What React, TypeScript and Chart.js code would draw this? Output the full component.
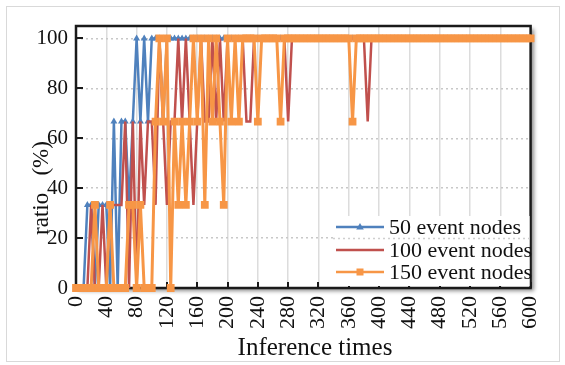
import React, { useEffect, useRef } from 'react';
import { Chart, registerables } from 'chart.js';

Chart.register(...registerables);

// ---------- data ----------
const inferenceTimes = [
  0, 5, 10, 15, 20, 25, 30, 35, 40, 45,
  50, 55, 60, 65, 70, 75, 80, 85, 90, 95,
  100, 105, 110, 115, 120, 125, 130, 135, 140, 145,
  150, 155, 160, 165, 170, 175, 180, 185, 190, 195,
  200, 205, 210, 215, 220, 225, 230, 235, 240, 245,
  250, 255, 260, 265, 270, 275, 280, 285, 290, 295,
  300, 305, 310, 315, 320, 325, 330, 335, 340, 345,
  350, 355, 360, 365, 370, 375, 380, 385, 390, 395,
  400, 405, 410, 415, 420, 425, 430, 435, 440, 445,
  450, 455, 460, 465, 470, 475, 480, 485, 490, 495,
  500, 505, 510, 515, 520, 525, 530, 535, 540, 545,
  550, 555, 560, 565, 570, 575, 580, 585, 590, 595,
  600,
];

const nodes50 = [
  0, 0, 0, 33.3, 33.3, 0, 33.3, 33.3, 33.3, 0,
  66.7, 0, 66.7, 66.7, 33.3, 66.7, 100, 66.7, 100, 66.7,
  100, 100, 100, 66.7, 100, 100, 100, 100, 100, 100,
  100, 100, 100, 100, 100, 100, 100, 100, 100, 100,
  100, 100, 100, 100, 100, 100, 100, 100, 100, 100,
  100, 100, 100, 100, 100, 100, 100, 100, 100, 100,
  100, 100, 100, 100, 100, 100, 100, 100, 100, 100,
  100, 100, 100, 100, 100, 100, 100, 100, 100, 100,
  100, 100, 100, 100, 100, 100, 100, 100, 100, 100,
  100, 100, 100, 100, 100, 100, 100, 100, 100, 100,
  100, 100, 100, 100, 100, 100, 100, 100, 100, 100,
  100, 100, 100, 100, 100, 100, 100, 100, 100, 100,
  100,
];

const nodes100 = [
  0, 0, 0, 0, 33.3, 0, 0, 33.3, 0, 33.3,
  33.3, 33.3, 33.3, 66.7, 0, 66.7, 0, 66.7, 33.3, 66.7,
  66.7, 33.3, 100, 66.7, 33.3, 66.7, 66.7, 100, 66.7, 100,
  66.7, 33.3, 66.7, 100, 66.7, 66.7, 100, 66.7, 100, 66.7,
  100, 100, 100, 100, 100, 66.7, 66.7, 100, 100, 100,
  100, 100, 100, 100, 100, 100, 66.7, 100, 100, 100,
  100, 100, 100, 100, 100, 100, 100, 100, 100, 100,
  100, 100, 100, 100, 100, 100, 100, 66.7, 100, 100,
  100, 100, 100, 100, 100, 100, 100, 100, 100, 100,
  100, 100, 100, 100, 100, 100, 100, 100, 100, 100,
  100, 100, 100, 100, 100, 100, 100, 100, 100, 100,
  100, 100, 100, 100, 100, 100, 100, 100, 100, 100,
  100,
];

const nodes150 = [
  0, 0, 0, 0, 0, 33.3, 0, 0, 0, 33.3,
  0, 0, 0, 0, 33.3, 33.3, 0, 33.3, 0, 0,
  0, 66.7, 100, 66.7, 100, 0, 66.7, 33.3, 66.7, 33.3,
  66.7, 100, 66.7, 100, 33.3, 100, 66.7, 100, 66.7, 33.3,
  100, 66.7, 100, 66.7, 100, 100, 100, 100, 66.7, 100,
  100, 100, 100, 100, 66.7, 100, 100, 100, 100, 100,
  100, 100, 100, 100, 100, 100, 100, 100, 100, 100,
  100, 100, 100, 66.7, 100, 100, 100, 100, 100, 100,
  100, 100, 100, 100, 100, 100, 100, 100, 100, 100,
  100, 100, 100, 100, 100, 100, 100, 100, 100, 100,
  100, 100, 100, 100, 100, 100, 100, 100, 100, 100,
  100, 100, 100, 100, 100, 100, 100, 100, 100, 100,
  100,
];

const seriesLabels = ['50 event nodes', '100 event nodes', '150 event nodes'];
const yTickValues = [0, 20, 40, 60, 80, 100];
const xTickValues = [0, 40, 80, 120, 160, 200, 240, 280, 320, 360, 400, 440, 480, 520, 560, 600];
const xTitle = 'Inference times';
const yTitle = 'ratio   (%)';

// ---------- styles ----------
const FONT = '"Liberation Serif", "Times New Roman", serif';
const BLUE = '#4F81BD';
const RED = '#C0504D';
const ORANGE = '#F79646';

function drawTriangle(ctx: CanvasRenderingContext2D, x: number, y: number, r: number) {
  ctx.beginPath();
  ctx.moveTo(x, y - r);
  ctx.lineTo(x + r * 0.95, y + r * 0.6);
  ctx.lineTo(x - r * 0.95, y + r * 0.6);
  ctx.closePath();
  ctx.fill();
}

const decorPlugin = {
  id: 'decor',
  beforeDraw(chart: any) {
    const { ctx, chartArea: a } = chart;
    ctx.save();
    ctx.strokeStyle = '#d9d9d9';
    ctx.lineWidth = 1;
    ctx.strokeRect(6.5, 6.5, 553, 355);
    ctx.shadowColor = 'rgba(0,0,0,0.45)';
    ctx.shadowBlur = 4;
    ctx.shadowOffsetX = 3;
    ctx.shadowOffsetY = 3;
    ctx.fillStyle = '#ffffff';
    ctx.fillRect(a.left, a.top, a.right - a.left, a.bottom - a.top);
    ctx.restore();
  },
  beforeDatasetsDraw(chart: any) {
    const { ctx, chartArea: a, scales } = chart;
    ctx.save();
    ctx.strokeStyle = '#1a1a1a';
    ctx.lineWidth = 2.5;
    ctx.strokeRect(a.left, a.top, a.right - a.left, a.bottom - a.top);
    ctx.lineWidth = 2;
    ctx.beginPath();
    xTickValues.forEach((v) => {
      const px = Math.round(scales.x.getPixelForValue(v));
      ctx.moveTo(px, a.bottom);
      ctx.lineTo(px, a.bottom - 6);
    });
    yTickValues.forEach((v) => {
      const py = Math.round(scales.y.getPixelForValue(v));
      ctx.moveTo(a.left, py);
      ctx.lineTo(a.left + 7, py);
    });
    ctx.stroke();
    ctx.restore();
  },
  afterDraw(chart: any) {
    const { ctx, chartArea: a, scales } = chart;
    ctx.save();
    ctx.fillStyle = '#111';
    ctx.font = `25px ${FONT}`;
    ctx.textAlign = 'center';
    ctx.textBaseline = 'middle';
    ctx.fillText(xTitle, 315, 348);
    ctx.save();
    ctx.translate(42, 188);
    ctx.rotate(-Math.PI / 2);
    ctx.font = `23px ${FONT}`;
    ctx.fillText(yTitle, 0, 0);
    ctx.restore();

    // legend
    const lx = 333, ly = 216, lw = a.right - 1 - lx, lh = a.bottom - 2 - ly;
    ctx.fillStyle = '#ffffff';
    ctx.fillRect(lx, ly, lw, lh);
    const gy = Math.round(scales.y.getPixelForValue(20)) + 0.5;
    ctx.strokeStyle = '#cfcfcf';
    ctx.lineWidth = 1.5;
    ctx.setLineDash([2, 3]);
    ctx.beginPath();
    ctx.moveTo(lx, gy);
    ctx.lineTo(lx + lw, gy);
    ctx.stroke();
    ctx.setLineDash([]);

    const colors = [BLUE, RED, ORANGE];
    const rows = [227, 250, 272];
    ctx.font = `22px ${FONT}`;
    ctx.textAlign = 'left';
    ctx.textBaseline = 'middle';
    seriesLabels.forEach((lab, i) => {
      const y = rows[i];
      ctx.strokeStyle = colors[i];
      ctx.lineWidth = 2.5;
      ctx.beginPath();
      ctx.moveTo(336, y);
      ctx.lineTo(384, y);
      ctx.stroke();
      ctx.fillStyle = colors[i];
      if (i === 0) drawTriangle(ctx, 360, y, 4);
      if (i === 2) ctx.fillRect(356.5, y - 3.5, 7, 7);
      ctx.fillStyle = '#111';
      ctx.fillText(lab, 389, y + 1);
    });
    ctx.restore();
  },
};

const makeData = (vals: number[]) => inferenceTimes.map((x, i) => ({ x, y: vals[i] }));

export default function App() {
  const ref = useRef<HTMLCanvasElement>(null);

  useEffect(() => {
    const canvas = ref.current;
    if (!canvas) return;
    const chart = new Chart(canvas, {
      type: 'line',
      data: {
        datasets: [
          {
            label: seriesLabels[0],
            data: makeData(nodes50),
            borderColor: BLUE,
            backgroundColor: BLUE,
            borderWidth: 2.5,
            pointStyle: 'triangle',
            pointRadius: 4,
            pointBorderWidth: 0,
            tension: 0,
            order: 2,
            clip: 10,
          },
          {
            label: seriesLabels[1],
            data: makeData(nodes100),
            borderColor: RED,
            backgroundColor: RED,
            borderWidth: 2.5,
            pointRadius: 0,
            tension: 0,
            order: 1,
            clip: 10,
          },
          {
            label: seriesLabels[2],
            data: makeData(nodes150),
            borderColor: ORANGE,
            backgroundColor: ORANGE,
            borderWidth: 3,
            pointStyle: 'rect',
            pointRadius: 5.5,
            pointBorderWidth: 0,
            tension: 0,
            order: 0,
            clip: 10,
          },
        ],
      },
      options: {
        responsive: false,
        animation: false,
        devicePixelRatio: 1,
        layout: { padding: { left: 0, top: 26, right: 27, bottom: 0 } },
        plugins: {
          legend: { display: false },
          tooltip: { enabled: false },
        },
        scales: {
          x: {
            type: 'linear',
            min: 0,
            max: 600,
            afterFit: (s: any) => {
              s.height = 77;
            },
            afterBuildTicks: (s: any) => {
              s.ticks = xTickValues.map((v) => ({ value: v }));
            },
            ticks: {
              autoSkip: false,
              minRotation: 90,
              maxRotation: 90,
              padding: 8,
              color: '#111',
              font: { family: FONT, size: 22 },
            },
            grid: { color: '#dcdcdc', lineWidth: 1.5, drawTicks: false },
            border: { display: false },
          },
          y: {
            type: 'linear',
            min: 0,
            max: 105,
            afterFit: (s: any) => {
              s.width = 76;
            },
            afterBuildTicks: (s: any) => {
              s.ticks = yTickValues.map((v) => ({ value: v }));
            },
            ticks: {
              padding: 8,
              color: '#111',
              font: { family: FONT, size: 21 },
            },
            grid: { color: '#c8c8c8', lineWidth: 1.5, drawTicks: false },
            border: { display: false, dash: [2, 3] },
          },
        },
      },
      plugins: [decorPlugin],
    } as any);
    return () => chart.destroy();
  }, []);

  return (
    <div style={{ position: 'fixed', left: 0, top: 0, width: 565, height: 365, background: '#fff' }}>
      <canvas ref={ref} width={565} height={365} style={{ display: 'block', width: 565, height: 365 }} />
    </div>
  );
}
